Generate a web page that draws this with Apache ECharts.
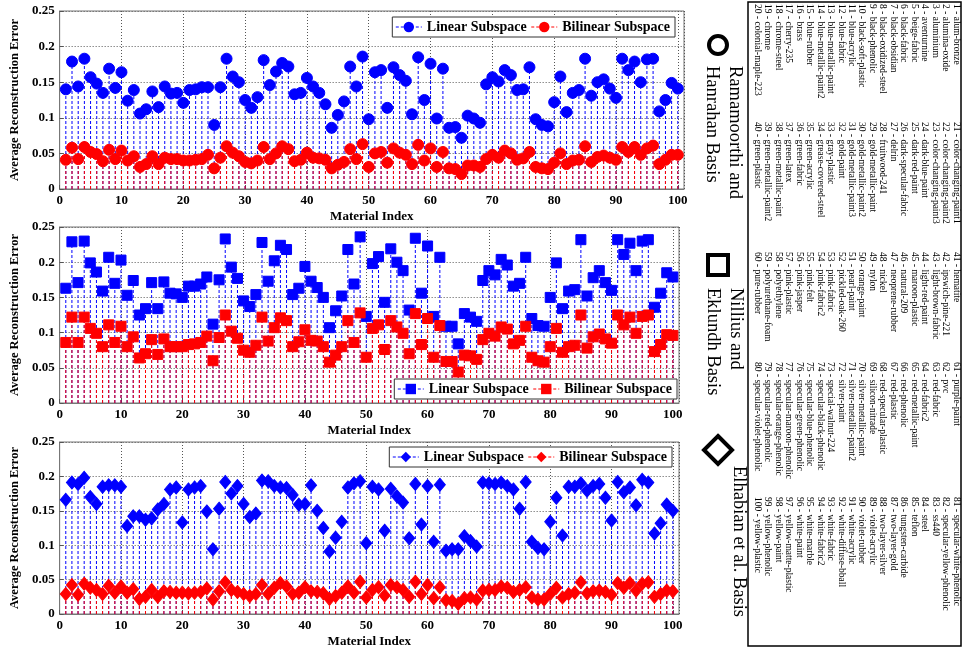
<!DOCTYPE html>
<html><head><meta charset="utf-8">
<script src="https://cdn.jsdelivr.net/npm/echarts@6/dist/echarts.min.js"></script>
<style>html,body{margin:0;padding:0;background:#fff}#c{width:963px;height:649px}</style>
</head><body><div id="c"></div>
<script>
// ---------- DATA ----------
const materialIndex = Array.from({length: 100}, (_, i) => i + 1);
const xTickLabels = [0, 10, 20, 30, 40, 50, 60, 70, 80, 90, 100];
const yTickLabels = [0, 0.05, 0.1, 0.15, 0.2, 0.25];
const seriesNames = ['Linear Subspace', 'Bilinear Subspace'];
const basisNames = [['Ramamoorthi and', 'Hanrahan Basis'], ['Nillius and', 'Eklundh Basis'], ['Elhabian et al. Basis']];

const rhLinear = [0.140,0.179,0.144,0.183,0.157,0.148,0.135,0.169,0.142,0.164,
0.124,0.139,0.106,0.112,0.137,0.115,0.144,0.134,0.135,0.121,
0.139,0.140,0.143,0.143,0.090,0.143,0.183,0.158,0.150,0.125,
0.114,0.129,0.181,0.146,0.165,0.177,0.172,0.133,0.135,0.156,
0.144,0.135,0.119,0.086,0.104,0.123,0.172,0.144,0.186,0.098,
0.164,0.167,0.114,0.171,0.160,0.152,0.105,0.185,0.125,0.176,
0.099,0.169,0.086,0.087,0.072,0.103,0.099,0.093,0.147,0.157,
0.151,0.167,0.160,0.139,0.140,0.171,0.098,0.090,0.088,0.122,
0.158,0.108,0.135,0.139,0.183,0.131,0.150,0.154,0.141,0.128,
0.183,0.167,0.179,0.150,0.182,0.183,0.109,0.125,0.149,0.141];
const rhBilinear = [0.041,0.058,0.042,0.059,0.052,0.049,0.039,0.055,0.042,0.054,
0.040,0.046,0.031,0.035,0.046,0.035,0.044,0.042,0.042,0.040,
0.040,0.041,0.042,0.048,0.029,0.044,0.060,0.051,0.046,0.038,
0.036,0.040,0.059,0.042,0.050,0.060,0.056,0.039,0.041,0.051,
0.044,0.043,0.041,0.029,0.034,0.038,0.056,0.042,0.063,0.031,
0.050,0.052,0.037,0.057,0.051,0.048,0.035,0.062,0.040,0.057,
0.031,0.052,0.029,0.028,0.021,0.033,0.033,0.031,0.042,0.048,
0.044,0.054,0.050,0.041,0.043,0.052,0.031,0.029,0.028,0.037,
0.050,0.035,0.040,0.041,0.060,0.038,0.045,0.047,0.044,0.041,
0.059,0.052,0.059,0.048,0.057,0.061,0.035,0.041,0.048,0.048];
const neLinear = [0.163,0.229,0.171,0.230,0.199,0.186,0.159,0.207,0.170,0.203,
0.153,0.174,0.125,0.134,0.171,0.134,0.172,0.156,0.155,0.150,
0.166,0.166,0.169,0.179,0.112,0.175,0.233,0.193,0.177,0.145,
0.137,0.154,0.228,0.173,0.202,0.224,0.218,0.154,0.163,0.194,
0.173,0.164,0.150,0.107,0.131,0.152,0.218,0.169,0.236,0.123,
0.198,0.208,0.143,0.219,0.200,0.188,0.132,0.234,0.156,0.223,
0.123,0.207,0.109,0.109,0.084,0.127,0.122,0.116,0.174,0.188,
0.182,0.204,0.196,0.166,0.170,0.207,0.120,0.110,0.109,0.150,
0.199,0.134,0.159,0.161,0.232,0.152,0.178,0.188,0.171,0.160,
0.232,0.211,0.227,0.188,0.230,0.232,0.136,0.156,0.185,0.179];
const neBilinear = [0.086,0.122,0.086,0.122,0.106,0.099,0.080,0.111,0.086,0.109,
0.080,0.094,0.064,0.070,0.090,0.069,0.091,0.080,0.080,0.080,
0.083,0.084,0.086,0.095,0.060,0.093,0.125,0.102,0.092,0.075,
0.072,0.082,0.122,0.088,0.107,0.121,0.117,0.080,0.087,0.104,
0.089,0.088,0.080,0.058,0.068,0.080,0.117,0.086,0.128,0.065,
0.106,0.111,0.076,0.117,0.108,0.099,0.070,0.127,0.083,0.120,
0.065,0.110,0.059,0.059,0.044,0.068,0.067,0.062,0.090,0.099,
0.095,0.108,0.105,0.084,0.089,0.109,0.065,0.060,0.058,0.080,
0.106,0.072,0.080,0.082,0.125,0.078,0.094,0.098,0.091,0.085,
0.125,0.111,0.122,0.099,0.123,0.125,0.073,0.083,0.097,0.096];
const elLinear = [0.166,0.191,0.189,0.198,0.170,0.160,0.185,0.187,0.187,0.185,
0.128,0.142,0.142,0.137,0.139,0.152,0.160,0.181,0.184,0.133,
0.181,0.184,0.186,0.149,0.094,0.153,0.192,0.175,0.186,0.160,
0.141,0.146,0.194,0.193,0.186,0.184,0.183,0.173,0.159,0.160,
0.187,0.150,0.125,0.091,0.111,0.134,0.184,0.190,0.193,0.103,
0.185,0.181,0.121,0.182,0.171,0.162,0.110,0.189,0.130,0.186,
0.105,0.188,0.092,0.094,0.094,0.113,0.106,0.098,0.191,0.190,
0.189,0.191,0.186,0.181,0.153,0.192,0.105,0.096,0.094,0.134,
0.169,0.114,0.185,0.185,0.190,0.179,0.186,0.189,0.169,0.136,
0.192,0.177,0.184,0.158,0.195,0.191,0.117,0.132,0.159,0.150];
const elBilinear = [0.029,0.042,0.028,0.044,0.038,0.035,0.029,0.041,0.031,0.040,
0.031,0.036,0.022,0.025,0.035,0.025,0.033,0.032,0.031,0.031,
0.030,0.031,0.032,0.037,0.021,0.033,0.046,0.035,0.032,0.029,
0.026,0.029,0.042,0.029,0.038,0.045,0.040,0.029,0.031,0.039,
0.033,0.032,0.030,0.022,0.026,0.031,0.040,0.031,0.047,0.024,
0.035,0.039,0.027,0.042,0.039,0.035,0.025,0.047,0.029,0.042,
0.023,0.039,0.020,0.019,0.015,0.023,0.024,0.021,0.034,0.035,
0.035,0.040,0.038,0.032,0.035,0.039,0.024,0.021,0.021,0.029,
0.038,0.024,0.029,0.031,0.046,0.030,0.033,0.034,0.032,0.028,
0.045,0.038,0.045,0.034,0.044,0.046,0.025,0.029,0.034,0.033];

const materials = ['alum-bronze','alumina-oxide','aluminium','aventurnine','beige-fabric','black-fabric','black-obsidian','black-oxidized-steel','black-phenolic','black-soft-plastic',
'blue-acrylic','blue-fabric','blue-metallic-paint','blue-metallic-paint2','blue-rubber','brass','cherry-235','chrome-steel','chrome','colonial-maple-223',
'color-changing-paint1','color-changing-paint2','color-changing-paint3','dark-blue-paint','dark-red-paint','dark-specular-fabric','delrin','fruitwood-241','gold-metallic-paint','gold-metallic-paint2',
'gold-metallic-paint3','gold-paint','gray-plastic','grease-covered-steel','green-acrylic','green-fabric','green-latex','green-metallic-paint','green-metallic-paint2','green-plastic',
'hematite','ipswich-pine-221','light-brown-fabric','light-red-paint','maroon-plastic','natural-209','neoprene-rubber','nickel','nylon','orange-paint',
'pearl-paint','pickled-oak-260','pink-fabric','pink-fabric2','pink-felt','pink-jasper','pink-plastic','polyethylene','polyurethane-foam','pure-rubber',
'purple-paint','pvc','red-fabric','red-fabric2','red-metallic-paint','red-phenolic','red-plastic','red-specular-plastic','silicon-nitrade','silver-metallic-paint',
'silver-metallic-paint2','silver-paint','special-walnut-224','specular-black-phenolic','specular-blue-phenolic','specular-green-phenolic','specular-maroon-phenolic','specular-orange-phenolic','specular-red-phenolic','specular-violet-phenolic',
'specular-white-phenolic','specular-yellow-phenolic','ss440','steel','teflon','tungsten-carbide','two-layer-gold','two-layer-silver','violet-acrylic','violet-rubber',
'white-acrylic','white-diffuse-bball','white-fabric','white-fabric2','white-marble','white-paint','yellow-matte-plastic','yellow-paint','yellow-phenolic','yellow-plastic'];

// ---------- CHART ----------
const FONT = '"Liberation Serif", "Times New Roman", serif';
const BLUE = '#0000ff', RED = '#ff0000';
const panels = [
  {lin: rhLinear, bil: rhBilinear, symbol: 'circle', size: 11, grid: {left: 53, top: 11, width: 631, height: 178}, legend: {right: 288, top: 17}},
  {lin: neLinear, bil: neBilinear, symbol: 'rect', size: 10, grid: {left: 55, top: 227, width: 624, height: 176}, legend: {right: 286, top: 379}},
  {lin: elLinear, bil: elBilinear, symbol: 'diamond', size: [11, 13], grid: {left: 54, top: 442, width: 625, height: 177}, legend: {right: 291, top: 447}}
];

function stemRender(color) {
  return function (params, api) {
    const x = api.value(0), y = api.value(1);
    const p0 = api.coord([x, 0]), p1 = api.coord([x, y]);
    return {type: 'line', shape: {x1: p0[0], y1: p0[1], x2: p1[0], y2: p1[1]},
      style: {stroke: color, lineWidth: 1, lineDash: [3, 2]}};
  };
}

const grids = [], xAxes = [], yAxes = [], series = [], legends = [];
panels.forEach((p, k) => {
  grids.push(Object.assign({show: true, borderColor: '#777', borderWidth: 1, backgroundColor: '#fff'}, p.grid));
  xAxes.push({type: 'value', gridIndex: k, min: 0, max: 101, interval: 10,
    name: 'Material Index', nameLocation: 'middle', nameGap: 21,
    nameTextStyle: {fontFamily: FONT, fontWeight: 'bold', fontSize: 13, color: '#000'},
    axisLine: {show: true, onZero: false, lineStyle: {color: '#777'}},
    axisTick: {show: true, inside: true, length: 4, lineStyle: {color: '#555'}},
    axisLabel: {showMaxLabel: false, margin: 5, fontFamily: FONT, fontWeight: 'bold', fontSize: 13, color: '#000',
      formatter: v => xTickLabels.indexOf(v) >= 0 ? String(v) : ''},
    splitLine: {show: true, lineStyle: {color: '#555', type: [1, 2], width: 1}}});
  yAxes.push({type: 'value', gridIndex: k, min: yTickLabels[0], max: yTickLabels[yTickLabels.length - 1], interval: 0.05,
    name: 'Average Reconstruction Error', nameLocation: 'middle', nameGap: 29,
    nameTextStyle: {fontFamily: FONT, fontWeight: 'bold', fontSize: 12.5, color: '#000'},
    axisLine: {show: true, lineStyle: {color: '#777'}},
    axisTick: {show: true, inside: true, length: 4, lineStyle: {color: '#555'}},
    axisLabel: {margin: 5, fontFamily: FONT, fontWeight: 'bold', fontSize: 13, color: '#000'},
    splitLine: {show: true, lineStyle: {color: '#555', type: [1, 2], width: 1}}});
  const defs = [[p.lin, BLUE, seriesNames[0]], [p.bil, RED, seriesNames[1]]];
  defs.forEach(([arr, color, nm], j) => {
    const data = materialIndex.map((m, i) => [m, arr[i]]);
    series.push({type: 'custom', name: 'stem' + k + j, xAxisIndex: k, yAxisIndex: k, z: 2 + j * 2,
      renderItem: stemRender(color), data: data, silent: true});
    series.push({type: 'line', name: nm + '#' + k, xAxisIndex: k, yAxisIndex: k, z: 3 + j * 2,
      data: data, symbol: p.symbol, symbolSize: p.size, showSymbol: true, showAllSymbol: true,
      lineStyle: {color: color, width: 1, type: [3, 2], opacity: 0},
      itemStyle: {color: color, borderColor: color}, silent: true});
  });
  legends.push(Object.assign({
    z: 20, orient: 'horizontal', selectedMode: false, backgroundColor: '#fff',
    borderColor: '#333', borderWidth: 1, borderRadius: 0, padding: [3, 5, 3, 3], itemGap: 4,
    itemWidth: 26, itemHeight: 13,
    textStyle: {fontFamily: FONT, fontWeight: 'bold', fontSize: 14, color: '#000'},
    formatter: n => n.split('#')[0],
    data: defs.map(([arr, color, nm]) => ({name: nm + '#' + k,
      lineStyle: {color: color, width: 1, type: [3, 2], opacity: 1}}))
  }, p.legend));
});

// side annotations
const G = [];
const rot = -Math.PI / 2;
G.push({type: 'circle', shape: {cx: 718, cy: 45, r: 9}, style: {fill: 'none', stroke: '#000', lineWidth: 4}});
G.push({type: 'rect', shape: {x: 708, y: 255, width: 20, height: 20}, style: {fill: 'none', stroke: '#000', lineWidth: 4}});
G.push({type: 'polygon', shape: {points: [[718, 436], [732, 450], [718, 464], [704, 450]]}, style: {fill: 'none', stroke: '#000', lineWidth: 4}});
const basisPos = [[[735, 66], [712, 66]], [[736, 288], [713, 288]], [[739, 466]]];
basisNames.forEach((lines, k) => lines.forEach((t, j) => {
  G.push({type: 'text', x: basisPos[k][j][0], y: basisPos[k][j][1], rotation: rot,
    style: {text: t, fontFamily: FONT, fontSize: 18.5, fill: '#000', align: 'left', verticalAlign: 'middle'}});
}));
// material list box
G.push({type: 'rect', shape: {x: 748, y: 2, width: 213, height: 644}, style: {fill: 'none', stroke: '#000', lineWidth: 1.5}});
const colStarts = [4, 122, 252, 362, 497];
materials.forEach((m, i) => {
  const row = i % 20, col = Math.floor(i / 20);
  G.push({type: 'text', x: 956 - row * 10.45, y: colStarts[col], rotation: rot,
    style: {text: (i + 1) + ' - ' + m, fontFamily: FONT, fontSize: 9.5, fill: '#000', align: 'left', verticalAlign: 'middle'}});
});

const chart = echarts.init(document.getElementById('c'));
chart.setOption({
  animation: false,
  backgroundColor: '#fff',
  grid: grids, xAxis: xAxes, yAxis: yAxes, series: series, legend: legends,
  graphic: {elements: G}
});
</script></body></html>
